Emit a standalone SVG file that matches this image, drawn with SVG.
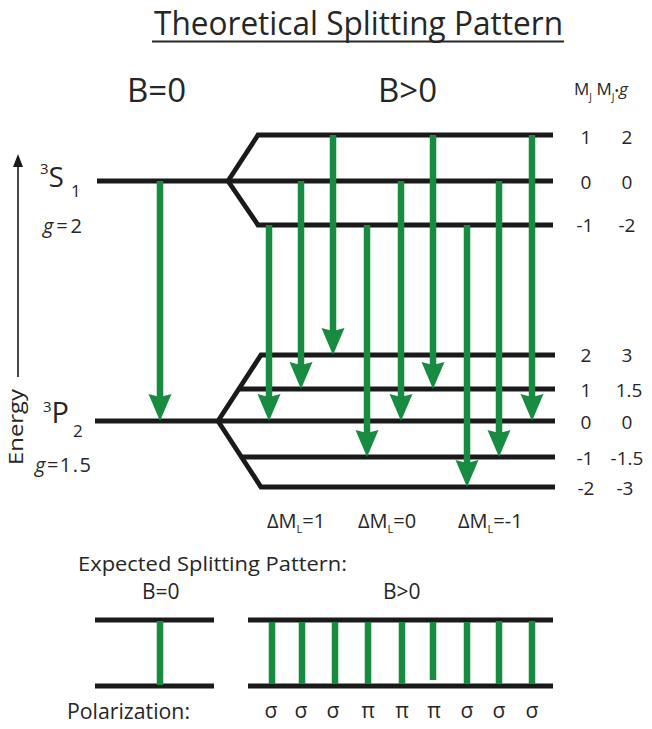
<svg xmlns="http://www.w3.org/2000/svg" width="652" height="729" viewBox="0 0 652 729">
  <style>
    text { font-family: "Open Sans", "Liberation Sans", sans-serif; fill: #262626; }
    .lvl { stroke: #1a1a1a; stroke-width: 4.8; fill: none; stroke-linejoin: miter; }
    .tr { stroke: #178b3f; stroke-width: 6.5; fill: none; marker-end: url(#head); }
    .bar { stroke: #178b3f; stroke-width: 6.5; }
    .num { font-size: 19px; text-anchor: middle; }
    .pol { font-size: 21px; text-anchor: middle; }
    .it { font-style: italic; }
  </style>
  <defs>
    <marker id="head" markerUnits="userSpaceOnUse" markerWidth="28" markerHeight="24" refX="12" refY="11.5" orient="auto">
      <path d="M0,0 L27,11.5 L0,23 L3,11.5 Z" fill="#178b3f"/>
    </marker>
    <marker id="axis" markerUnits="userSpaceOnUse" markerWidth="14" markerHeight="12" refX="2" refY="5" orient="auto">
      <path d="M0,0 L13,5 L0,10 Z" fill="#1a1a1a"/>
    </marker>
  </defs>

  <rect width="652" height="729" fill="#ffffff"/>

  <!-- heading -->
  <g id="title">
    <text x="154" y="35" font-size="32" textLength="409" lengthAdjust="spacingAndGlyphs">Theoretical Splitting Pattern</text>
    <line x1="152" y1="41.5" x2="564" y2="41.5" stroke="#262626" stroke-width="2"/>
  </g>
  <g id="field-labels">
    <text x="127" y="102" font-size="33">B=0</text>
    <text x="378" y="102" font-size="33">B&gt;0</text>
  </g>
  <g id="column-header">
    <text x="574" y="95" font-size="17">M<tspan dy="6" font-size="10">J</tspan><tspan dy="-6"> M</tspan><tspan dy="6" font-size="10">J</tspan><tspan dy="-6" font-size="12">•</tspan><tspan class="it">g</tspan></text>
  </g>

  <!-- energy axis -->
  <g id="energy-axis">
    <line x1="18" y1="377" x2="18" y2="165" stroke="#1a1a1a" stroke-width="1.6" marker-end="url(#axis)"/>
    <text transform="translate(23,465) rotate(-90)" font-size="20" textLength="76" lengthAdjust="spacingAndGlyphs">Energy</text>
  </g>

  <!-- upper term 3S1 and its Zeeman sublevels -->
  <g id="state-3S1">
    <text x="40" y="174" font-size="15">3<tspan dy="13" font-size="28">S</tspan><tspan dx="7" dy="10" font-size="17">1</tspan></text>
    <text x="43" y="233" font-size="20" textLength="39" lengthAdjust="spacing"><tspan class="it">g</tspan>=2</text>
    <line class="lvl" x1="97" y1="181" x2="553" y2="181"/>
    <polyline class="lvl" points="228,181 258,135 553,135"/>
    <polyline class="lvl" points="228,181 258,225 553,225"/>
  </g>

  <!-- lower term 3P2 and its Zeeman sublevels -->
  <g id="state-3P2">
    <text x="43" y="412" font-size="15">3<tspan dy="11" font-size="29">P</tspan><tspan dx="4" dy="14" font-size="17">2</tspan></text>
    <text x="35" y="472" font-size="20" textLength="56" lengthAdjust="spacing"><tspan class="it">g</tspan>=1.5</text>
    <line class="lvl" x1="95" y1="421" x2="555" y2="421"/>
    <polyline class="lvl" points="218,421 261,355 555,355"/>
    <polyline class="lvl" points="218,421 261,487 555,487"/>
    <line class="lvl" x1="239" y1="389" x2="555" y2="389"/>
    <line class="lvl" x1="241" y1="457" x2="555" y2="457"/>
  </g>

  <!-- MJ and MJ*g values -->
  <g id="sublevel-values">
    <text class="num" x="586" y="143.5">1</text><text class="num" x="627" y="143.5">2</text>
    <text class="num" x="586" y="188.5">0</text><text class="num" x="627" y="188.5">0</text>
    <text class="num" x="585" y="232">-1</text><text class="num" x="627" y="232">-2</text>
    <text class="num" x="586" y="362">2</text><text class="num" x="627" y="362">3</text>
    <text class="num" x="586" y="396.5">1</text><text class="num" x="629" y="396.5">1.5</text>
    <text class="num" x="586" y="428.5">0</text><text class="num" x="627" y="428.5">0</text>
    <text class="num" x="585" y="464.5">-1</text><text class="num" x="627" y="464.5">-1.5</text>
    <text class="num" x="586" y="494.5">-2</text><text class="num" x="625" y="494.5">-3</text>
  </g>

  <!-- transitions -->
  <g id="connectors">
    <line class="tr" x1="160" y1="181" x2="160" y2="406"/>
    <line class="tr" x1="269" y1="225" x2="269" y2="406"/>
    <line class="tr" x1="301" y1="181" x2="301" y2="374"/>
    <line class="tr" x1="333" y1="135" x2="333" y2="340"/>
    <line class="tr" x1="367" y1="225" x2="367" y2="442"/>
    <line class="tr" x1="401" y1="181" x2="401" y2="406"/>
    <line class="tr" x1="433" y1="135" x2="433" y2="374"/>
    <line class="tr" x1="467" y1="225" x2="467" y2="472"/>
    <line class="tr" x1="499" y1="181" x2="499" y2="442"/>
    <line class="tr" x1="532" y1="135" x2="532" y2="406"/>
  </g>

  <g id="selection-labels" font-size="20">
    <text x="267" y="528">ΔM<tspan dy="5" font-size="11">L</tspan><tspan dy="-5">=1</tspan></text>
    <text x="358" y="528">ΔM<tspan dy="5" font-size="11">L</tspan><tspan dy="-5">=0</tspan></text>
    <text x="458" y="528">ΔM<tspan dy="5" font-size="11">L</tspan><tspan dy="-5">=-1</tspan></text>
  </g>

  <!-- expected pattern -->
  <g id="expected-pattern">
    <text x="78" y="571" font-size="20" textLength="269" lengthAdjust="spacingAndGlyphs">Expected Splitting Pattern:</text>
    <text x="142" y="599" font-size="21">B=0</text>
    <text x="383" y="599" font-size="21">B&gt;0</text>
  </g>
  <g id="pattern-b0">
    <line class="lvl" stroke-width="5" x1="95" y1="620" x2="214" y2="620"/>
    <line class="lvl" stroke-width="5" x1="95" y1="686" x2="214" y2="686"/>
    <line class="bar" x1="160" y1="621" x2="160" y2="685"/>
  </g>
  <g id="pattern-b1">
    <line class="lvl" stroke-width="5" x1="248" y1="620" x2="553" y2="620"/>
    <line class="lvl" stroke-width="5" x1="248" y1="686" x2="553" y2="686"/>
    <line class="bar" x1="272" y1="622" x2="272" y2="684"/>
    <line class="bar" x1="302" y1="622" x2="302" y2="684"/>
    <line class="bar" x1="335" y1="622" x2="335" y2="684"/>
    <line class="bar" x1="368" y1="622" x2="368" y2="684"/>
    <line class="bar" x1="402" y1="622" x2="402" y2="684"/>
    <line class="bar" x1="433" y1="622" x2="433" y2="680"/>
    <line class="bar" x1="467" y1="622" x2="467" y2="684"/>
    <line class="bar" x1="499" y1="621" x2="499" y2="684"/>
    <line class="bar" x1="532" y1="621" x2="532" y2="684"/>
  </g>
  <g id="polarization">
    <text x="67" y="719" font-size="21" textLength="123" lengthAdjust="spacingAndGlyphs">Polarization:</text>
    <text class="pol" x="271" y="718">σ</text>
    <text class="pol" x="301" y="718">σ</text>
    <text class="pol" x="333" y="718">σ</text>
    <text class="pol" x="368" y="718">π</text>
    <text class="pol" x="402" y="718">π</text>
    <text class="pol" x="434" y="718">π</text>
    <text class="pol" x="467" y="718">σ</text>
    <text class="pol" x="499" y="718">σ</text>
    <text class="pol" x="532" y="718">σ</text>
  </g>
</svg>
